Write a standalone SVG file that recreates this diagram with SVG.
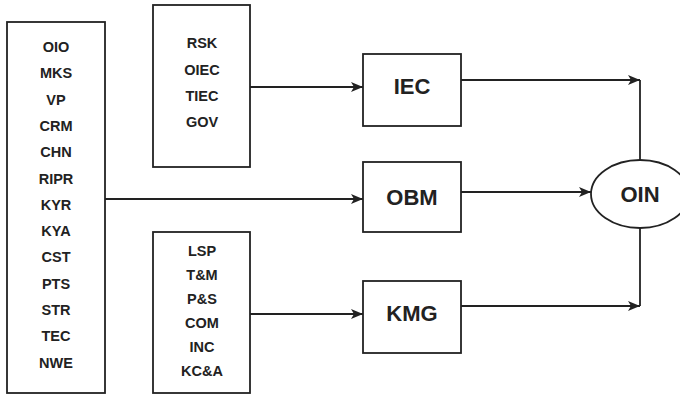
<svg xmlns="http://www.w3.org/2000/svg" width="680" height="395" viewBox="0 0 680 395">
<style>
.box{fill:#fff;stroke:#222;stroke-width:1.8}
.ln{fill:none;stroke:#222;stroke-width:1.8}
.t{font-family:"Liberation Sans",Arial,sans-serif;font-weight:bold;font-size:14.5px;fill:#222;text-anchor:middle}
.big{font-size:22px}
</style>
<defs>
<marker id="ar" markerUnits="userSpaceOnUse" markerWidth="14" markerHeight="12" refX="12" refY="5" orient="auto">
<path d="M0,0 L12,5 L0,10 L3,5 Z" fill="#222"/>
</marker>
</defs>
<rect width="680" height="395" fill="#fff"/>
<g id="connectors">
<line class="ln" x1="250" y1="87" x2="363" y2="87" marker-end="url(#ar)"/>
<line class="ln" x1="105" y1="199" x2="363" y2="199" marker-end="url(#ar)"/>
<line class="ln" x1="250" y1="314" x2="363" y2="314" marker-end="url(#ar)"/>
<line class="ln" x1="461" y1="80" x2="640" y2="80" marker-end="url(#ar)"/>
<line class="ln" x1="640" y1="80" x2="640" y2="160"/>
<line class="ln" x1="461" y1="192" x2="591" y2="192" marker-end="url(#ar)"/>
<line class="ln" x1="461" y1="306" x2="640" y2="306" marker-end="url(#ar)"/>
<line class="ln" x1="640" y1="306" x2="640" y2="228"/>
</g>
<g id="left">
<rect class="box" x="7" y="22" width="98" height="371"/>
<text class="t" x="56" y="52">OIO</text>
<text class="t" x="56" y="78.3">MKS</text>
<text class="t" x="56" y="104.6">VP</text>
<text class="t" x="56" y="130.9">CRM</text>
<text class="t" x="56" y="157.2">CHN</text>
<text class="t" x="56" y="183.5">RIPR</text>
<text class="t" x="56" y="209.8">KYR</text>
<text class="t" x="56" y="236.1">KYA</text>
<text class="t" x="56" y="262.4">CST</text>
<text class="t" x="56" y="288.7">PTS</text>
<text class="t" x="56" y="315">STR</text>
<text class="t" x="56" y="341.3">TEC</text>
<text class="t" x="56" y="367.6">NWE</text>
</g>
<g id="top">
<rect class="box" x="153" y="5" width="97" height="162"/>
<text class="t" x="202" y="48.3">RSK</text>
<text class="t" x="202" y="74.6">OIEC</text>
<text class="t" x="202" y="100.9">TIEC</text>
<text class="t" x="202" y="127.2">GOV</text>
</g>
<g id="bottom">
<rect class="box" x="153" y="232" width="97" height="161"/>
<text class="t" x="202" y="256">LSP</text>
<text class="t" x="202" y="279.9">T&amp;M</text>
<text class="t" x="202" y="303.8">P&amp;S</text>
<text class="t" x="202" y="327.7">COM</text>
<text class="t" x="202" y="351.6">INC</text>
<text class="t" x="202" y="375.5">KC&amp;A</text>
</g>
<g id="iec">
<rect class="box" x="363" y="54" width="98" height="72"/>
<text class="t big" x="412" y="93.5">IEC</text>
</g>
<g id="obm">
<rect class="box" x="363" y="162" width="98" height="70"/>
<text class="t big" x="412" y="205">OBM</text>
</g>
<g id="kmg">
<rect class="box" x="363" y="281" width="98" height="72"/>
<text class="t big" x="412" y="320.5">KMG</text>
</g>
<g id="oin">
<ellipse class="box" cx="640" cy="194" rx="49" ry="34"/>
<text class="t big" x="640" y="201.5">OIN</text>
</g>
</svg>
